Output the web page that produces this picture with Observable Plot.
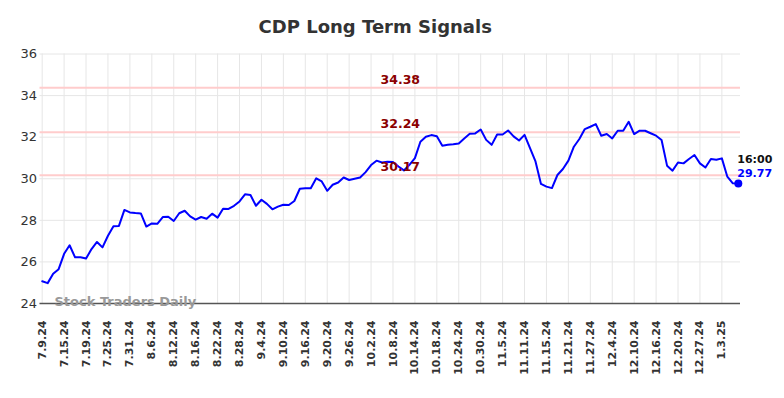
<!DOCTYPE html>
<html>
<head>
<meta charset="utf-8">
<script src="https://cdn.jsdelivr.net/npm/d3@7"></script>
<script src="https://cdn.jsdelivr.net/npm/@observablehq/plot@0.6"></script>
<style>
  html, body { margin: 0; padding: 0; background: #fff; }
  #chart svg { display: block; }
</style>
</head>
<body>
<div id="chart"></div>
<script>
const title = "CDP Long Term Signals";
const watermark = "Stock Traders Daily";

const dates = [
  "7.9.24","7.10.24","7.11.24","7.12.24","7.15.24","7.16.24","7.17.24","7.18.24","7.19.24","7.22.24",
  "7.23.24","7.24.24","7.25.24","7.26.24","7.29.24","7.30.24","7.31.24",
  "8.1.24","8.2.24","8.5.24","8.6.24","8.7.24","8.8.24","8.9.24","8.12.24","8.13.24","8.14.24",
  "8.15.24","8.16.24","8.19.24","8.20.24","8.21.24","8.22.24","8.23.24","8.26.24","8.27.24","8.28.24",
  "8.29.24","8.30.24",
  "9.3.24","9.4.24","9.5.24","9.6.24","9.9.24","9.10.24","9.11.24","9.12.24","9.13.24","9.16.24",
  "9.17.24","9.18.24","9.19.24","9.20.24","9.23.24","9.24.24","9.25.24","9.26.24","9.27.24","9.30.24",
  "10.1.24","10.2.24","10.3.24","10.4.24","10.7.24","10.8.24","10.9.24","10.10.24","10.11.24","10.14.24",
  "10.15.24","10.16.24","10.17.24","10.18.24","10.21.24","10.22.24","10.23.24","10.24.24","10.25.24","10.28.24",
  "10.29.24","10.30.24","10.31.24",
  "11.1.24","11.4.24","11.5.24","11.6.24","11.7.24","11.8.24","11.11.24","11.12.24","11.13.24","11.14.24",
  "11.15.24","11.18.24","11.19.24","11.20.24","11.21.24","11.22.24","11.25.24","11.26.24","11.27.24","11.29.24",
  "12.2.24","12.3.24","12.4.24","12.5.24","12.6.24","12.9.24","12.10.24","12.11.24","12.12.24","12.13.24",
  "12.16.24","12.17.24","12.18.24","12.19.24","12.20.24","12.23.24","12.24.24","12.26.24","12.27.24","12.30.24",
  "12.31.24",
  "1.2.25","1.3.25","1.6.25","1.7.25","1.8.25"
];

const prices = [
  25.07,24.98,25.43,25.65,26.39,26.80,26.22,26.22,26.16,26.62,
  26.96,26.70,27.26,27.71,27.73,28.50,28.38,28.35,28.33,27.70,
  27.85,27.83,28.16,28.17,27.97,28.34,28.46,28.19,28.03,28.16,
  28.08,28.32,28.13,28.56,28.55,28.70,28.91,29.25,29.22,28.70,
  28.99,28.79,28.53,28.66,28.75,28.74,28.93,29.52,29.54,29.54,
  30.02,29.87,29.42,29.71,29.82,30.06,29.94,30.00,30.06,30.32,
  30.66,30.87,30.78,30.82,30.80,30.59,30.40,30.67,30.99,31.78,
  32.02,32.10,32.04,31.59,31.63,31.66,31.70,31.94,32.16,32.18,
  32.37,31.87,31.63,32.13,32.13,32.32,32.04,31.84,32.11,31.47,
  30.83,29.75,29.62,29.55,30.18,30.47,30.87,31.54,31.91,32.39,
  32.50,32.63,32.07,32.15,31.94,32.31,32.31,32.74,32.15,32.31,
  32.31,32.19,32.07,31.86,30.63,30.39,30.78,30.74,30.95,31.14,
  30.74,30.54,30.95,30.91,30.98,30.10,29.78,29.77
];

const tickLabels = [
  "7.9.24","7.15.24","7.19.24","7.25.24","7.31.24","8.6.24","8.12.24","8.16.24","8.22.24","8.28.24",
  "9.4.24","9.10.24","9.16.24","9.20.24","9.26.24","10.2.24","10.8.24","10.14.24","10.18.24","10.24.24",
  "10.30.24","11.5.24","11.11.24","11.15.24","11.21.24","11.27.24","12.4.24","12.10.24","12.16.24","12.20.24",
  "12.27.24","1.3.25"
];

const yTicks = [24, 26, 28, 30, 32, 34, 36];
const levels = [34.38, 32.24, 30.17];
const lastTime = "16:00";

const data = dates.map((d, i) => ({date: d, price: prices[i]}));
const last = data[data.length - 1];

const chart = Plot.plot({
  width: 784,
  height: 398,
  marginTop: 53.5,
  marginBottom: 95,
  marginLeft: 39.5,
  marginRight: 44,
  style: {fontFamily: "DejaVu Sans", fontSize: "12px", color: "#333", background: "#fff"},
  x: {type: "point", domain: dates, padding: 0.4},
  y: {domain: [24, 36]},
  marks: [
    Plot.gridX(tickLabels, {stroke: "#e6e6e6", strokeOpacity: 1, strokeWidth: 1}),
    Plot.gridY(yTicks, {stroke: "#e6e6e6", strokeOpacity: 1, strokeWidth: 1}),
    Plot.axisY(yTicks, {tickSize: 0, tickPadding: 3, fontSize: 13, fill: "#333", label: null}),
    Plot.axisX(tickLabels, {tickSize: 0, tickPadding: 17, tickRotate: -90, fontSize: 11, fontWeight: "bold", fill: "#333", label: null}),
    Plot.ruleY(levels, {stroke: "#ffcccc", strokeWidth: 2}),
    Plot.ruleY([24], {stroke: "#555", strokeWidth: 1.5}),
    Plot.text([watermark], {frameAnchor: "bottom-left", textAnchor: "start", lineAnchor: "middle", dx: 14.5, dy: -2, fill: "#999", fontSize: 13, fontWeight: "bold", text: d => d}),
    Plot.line(data, {x: "date", y: "price", stroke: "#0000ff", strokeWidth: 2}),
    Plot.text(levels, {y: d => d, text: d => d.toFixed(2), frameAnchor: "middle", dx: 10, dy: -8, fill: "#8b0000", fontSize: 12.5, fontWeight: "bold"}),
    Plot.dot([last], {x: "date", y: "price", r: 4, fill: "#0000ff"}),
    Plot.text([last], {x: "date", y: "price", text: () => lastTime, textAnchor: "start", dx: -1, dy: -24, fill: "#111", fontSize: 11, fontWeight: "bold"}),
    Plot.text([last], {x: "date", y: "price", text: d => d.price.toFixed(2), textAnchor: "start", dx: -1, dy: -10.5, fill: "#0000ff", fontSize: 11, fontWeight: "bold"}),
    Plot.text([title], {frameAnchor: "top", dx: -15, dy: -27, lineAnchor: "middle", text: d => d, fontSize: 18, fontWeight: "bold", fill: "#333"})
  ]
});
document.getElementById("chart").appendChild(chart);
</script>
</body>
</html>
